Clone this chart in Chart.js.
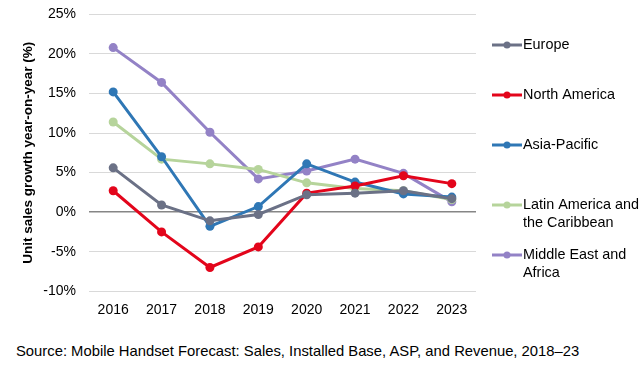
<!DOCTYPE html>
<html>
<head>
<meta charset="utf-8">
<script src="https://cdn.jsdelivr.net/npm/chart.js@4"></script>
<style>
  body { margin: 0; background: #fff; font-family: "Liberation Sans", Arial, sans-serif; overflow: hidden; }
  #wrap { position: relative; width: 642px; height: 333px; margin-top: -7px; }
  #source { position: absolute; left: 16px; top: 343px; font-size: 14.8px; color: #000; }
</style>
</head>
<body>
<div id="wrap"><canvas id="growthChart"></canvas></div>
<div id="source">Source: Mobile Handset Forecast: Sales, Installed Base, ASP, and Revenue, 2018–23</div>
<script>
const years = ["2016", "2017", "2018", "2019", "2020", "2021", "2022", "2023"];

const europe = [5.6, 0.9, -1.1, -0.3, 2.2, 2.4, 2.7, 1.7];
const northAmerica = [2.7, -2.5, -7.0, -4.4, 2.4, 3.3, 4.6, 3.6];
const asiaPacific = [15.2, 7.0, -1.8, 0.7, 6.1, 3.8, 2.3, 1.9];
const latinAmerica = [11.4, 6.7, 6.1, 5.4, 3.7, 3.0, 2.7, 1.6];
const middleEast = [20.8, 16.4, 10.1, 4.2, 5.2, 6.7, 4.9, 1.3];

const seriesNames = [
    ["Europe"],
    ["North America"],
    ["Asia-Pacific"],
    ["Latin America and", "the Caribbean"],
    ["Middle East and", "Africa"]
];
const seriesColors = ["#6b7186", "#e3051b", "#2f77b5", "#b6d49b", "#9382c6"];
const seriesData = [europe, northAmerica, asiaPacific, latinAmerica, middleEast];

// legend rows (y of the line marker in page coords), drawn beside the plot
const legendRows = [45, 95, 145, 205, 255];
const canvasShift = 7;

const sideLegend = {
    id: "sideLegend",
    afterDraw(chart) {
        const ctx = chart.ctx;
        ctx.save();
        ctx.font = "14.4px 'Liberation Sans', Arial, sans-serif";
        ctx.textBaseline = "middle";
        chart.data.datasets.forEach((ds, i) => {
            const y = legendRows[i] + canvasShift;
            ctx.strokeStyle = ds.borderColor;
            ctx.lineWidth = 3;
            ctx.beginPath();
            ctx.moveTo(492, y);
            ctx.lineTo(522, y);
            ctx.stroke();
            ctx.fillStyle = ds.borderColor;
            ctx.beginPath();
            ctx.arc(507, y, 3.5, 0, Math.PI * 2);
            ctx.fill();
            ctx.fillStyle = "#000";
            seriesNames[i].forEach((line, j) => {
                ctx.fillText(line, 523, y + j * 18);
            });
        });
        ctx.restore();
    }
};

const ctx = document.getElementById("growthChart").getContext("2d");

new Chart(ctx, {
    type: "line",
    data: {
        labels: years,
        datasets: seriesData.map((vals, i) => ({
            label: seriesNames[i].join(" "),
            data: vals,
            borderColor: seriesColors[i],
            backgroundColor: seriesColors[i],
            borderWidth: 3,
            pointRadius: 4.5,
            pointBorderWidth: 0,
            pointHoverRadius: 4.5,
            tension: 0
        }))
    },
    options: {
        responsive: true,
        maintainAspectRatio: false,
        animation: false,
        layout: { padding: { top: 0, right: 166, left: 20, bottom: 4 } },
        plugins: {
            legend: { display: false },
            tooltip: { enabled: false }
        },
        scales: {
            x: {
                offset: true,
                grid: { display: false },
                border: { display: false },
                ticks: {
                    color: "#000",
                    font: { family: "'Liberation Sans', Arial, sans-serif", size: 14 }
                }
            },
            y: {
                min: -10,
                max: 25,
                afterFit: scale => { scale.width = 69; },
                border: { display: false },
                grid: {
                    color: c => c.tick.value === 0 ? "#868686" : "#d9d9d9",
                    lineWidth: c => c.tick.value === 0 ? 1.5 : 1,
                    drawTicks: false
                },
                ticks: {
                    stepSize: 5,
                    padding: 13,
                    color: "#000",
                    font: { family: "'Liberation Sans', Arial, sans-serif", size: 14 },
                    callback: val => val + "%"
                },
                title: {
                    display: true,
                    text: "Unit sales growth year-on-year (%)",
                    color: "#000",
                    padding: { top: 0, bottom: 0 },
                    font: { family: "'Liberation Sans', Arial, sans-serif", size: 13.5, weight: "bold" }
                }
            }
        }
    },
    plugins: [sideLegend]
});
</script>
</body>
</html>
